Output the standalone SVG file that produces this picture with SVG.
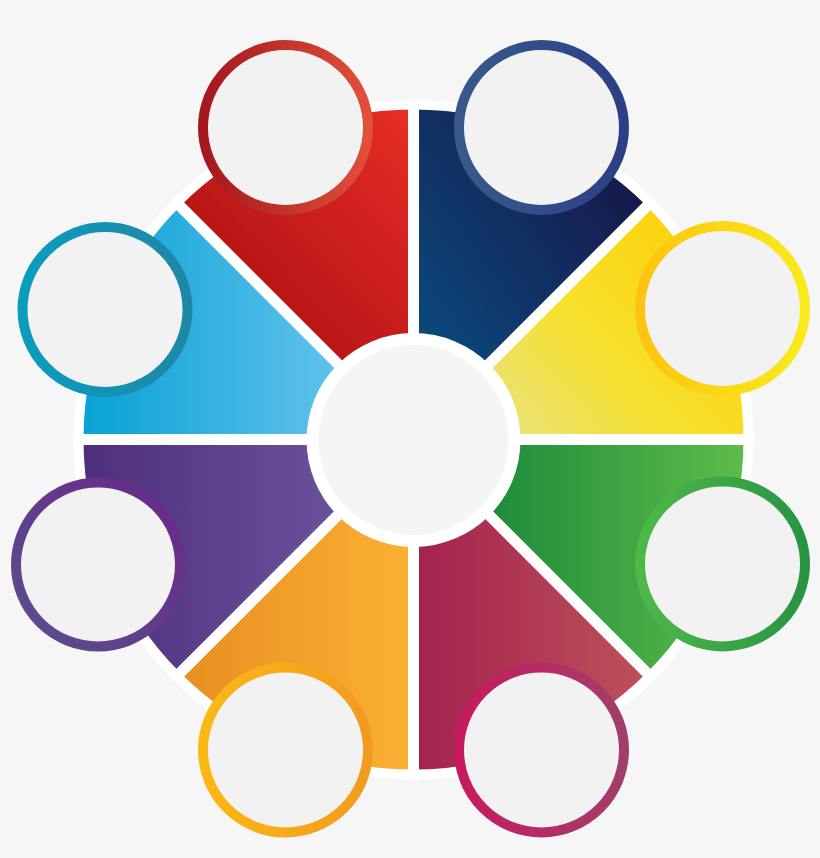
<svg xmlns="http://www.w3.org/2000/svg" width="820" height="858" viewBox="0 0 820 858">
  <style>
    .ring { stroke-width: 10; fill: #f2f2f2; }
    .divider { stroke: #ffffff; stroke-width: 11; stroke-linecap: butt; }
  </style>
  <defs>
    <linearGradient id="gRed" gradientUnits="userSpaceOnUse" x1="190" y1="330" x2="410" y2="120">
      <stop offset="0" stop-color="#a80e13"/>
      <stop offset="1" stop-color="#e62c25"/>
    </linearGradient>
    <linearGradient id="gBlue" gradientUnits="userSpaceOnUse" x1="420" y1="360" x2="640" y2="200">
      <stop offset="0" stop-color="#0a4b7e"/>
      <stop offset="1" stop-color="#17194b"/>
    </linearGradient>
    <linearGradient id="gYellow" gradientUnits="userSpaceOnUse" x1="495" y1="425" x2="700" y2="240">
      <stop offset="0" stop-color="#e9e17c"/>
      <stop offset="0.45" stop-color="#f6e12f"/>
      <stop offset="1" stop-color="#fcd20b"/>
    </linearGradient>
    <linearGradient id="gGreen" gradientUnits="userSpaceOnUse" x1="495" y1="0" x2="745" y2="0">
      <stop offset="0" stop-color="#1f8c3b"/>
      <stop offset="1" stop-color="#5fbc4b"/>
    </linearGradient>
    <linearGradient id="gCrimson" gradientUnits="userSpaceOnUse" x1="413" y1="0" x2="645" y2="0">
      <stop offset="0" stop-color="#a4214e"/>
      <stop offset="1" stop-color="#bd5159"/>
    </linearGradient>
    <linearGradient id="gOrange" gradientUnits="userSpaceOnUse" x1="180" y1="0" x2="413" y2="0">
      <stop offset="0" stop-color="#e88e22"/>
      <stop offset="1" stop-color="#fbb134"/>
    </linearGradient>
    <linearGradient id="gPurple" gradientUnits="userSpaceOnUse" x1="83" y1="0" x2="335" y2="0">
      <stop offset="0" stop-color="#4e2f7b"/>
      <stop offset="1" stop-color="#6a519b"/>
    </linearGradient>
    <linearGradient id="gCyan" gradientUnits="userSpaceOnUse" x1="83" y1="0" x2="335" y2="0">
      <stop offset="0" stop-color="#08a2d5"/>
      <stop offset="1" stop-color="#60c1ec"/>
    </linearGradient>

    <linearGradient id="rRed" x1="0" y1="0" x2="1" y2="0">
      <stop offset="0" stop-color="#a4171d"/>
      <stop offset="1" stop-color="#e0503a"/>
    </linearGradient>
    <linearGradient id="rBlue" x1="0" y1="0" x2="1" y2="0">
      <stop offset="0" stop-color="#375a8a"/>
      <stop offset="1" stop-color="#2c3f86"/>
    </linearGradient>
    <linearGradient id="rYellow" x1="0" y1="0" x2="1" y2="0">
      <stop offset="0" stop-color="#fdc40f"/>
      <stop offset="1" stop-color="#f8ea1c"/>
    </linearGradient>
    <linearGradient id="rGreen" x1="0" y1="0" x2="1" y2="0">
      <stop offset="0" stop-color="#4eb949"/>
      <stop offset="1" stop-color="#289443"/>
    </linearGradient>
    <linearGradient id="rCrimson" x1="0" y1="0" x2="1" y2="0">
      <stop offset="0" stop-color="#c71a5e"/>
      <stop offset="1" stop-color="#a23e6a"/>
    </linearGradient>
    <linearGradient id="rOrange" x1="0" y1="0" x2="1" y2="0">
      <stop offset="0" stop-color="#fcb814"/>
      <stop offset="1" stop-color="#f39a20"/>
    </linearGradient>
    <linearGradient id="rPurple" x1="1" y1="0" x2="0" y2="1">
      <stop offset="0" stop-color="#6b2789"/>
      <stop offset="1" stop-color="#5a4f8c"/>
    </linearGradient>
    <linearGradient id="rCyan" x1="0" y1="0" x2="1" y2="0">
      <stop offset="0" stop-color="#0a9dbd"/>
      <stop offset="1" stop-color="#1f87a6"/>
    </linearGradient>
  </defs>

  <rect x="0" y="0" width="820" height="858" fill="#f6f6f6"/>
  <circle id="outer-disk" cx="413.5" cy="439.5" r="340" fill="#ffffff"/>

  <g id="seg-red">
    <path d="M413.5 439.5 L180.15 206.15 A330 330 0 0 1 413.5 109.5 Z" fill="url(#gRed)"/>
  </g>
  <g id="seg-blue">
    <path d="M413.5 439.5 L413.5 109.5 A330 330 0 0 1 646.85 206.15 Z" fill="url(#gBlue)"/>
  </g>
  <g id="seg-yellow">
    <path d="M413.5 439.5 L646.85 206.15 A330 330 0 0 1 743.5 439.5 Z" fill="url(#gYellow)"/>
  </g>
  <g id="seg-green">
    <path d="M413.5 439.5 L743.5 439.5 A330 330 0 0 1 646.85 672.85 Z" fill="url(#gGreen)"/>
  </g>
  <g id="seg-crimson">
    <path d="M413.5 439.5 L646.85 672.85 A330 330 0 0 1 413.5 769.5 Z" fill="url(#gCrimson)"/>
  </g>
  <g id="seg-orange">
    <path d="M413.5 439.5 L413.5 769.5 A330 330 0 0 1 180.15 672.85 Z" fill="url(#gOrange)"/>
  </g>
  <g id="seg-purple">
    <path d="M413.5 439.5 L180.15 672.85 A330 330 0 0 1 83.5 439.5 Z" fill="url(#gPurple)"/>
  </g>
  <g id="seg-cyan">
    <path d="M413.5 439.5 L83.5 439.5 A330 330 0 0 1 180.15 206.15 Z" fill="url(#gCyan)"/>
  </g>

  <g id="dividers">
    <line class="divider" x1="413.5" y1="99" x2="413.5" y2="780"/>
    <line class="divider" x1="73" y1="439.5" x2="754" y2="439.5"/>
    <line class="divider" x1="173.1" y1="199.1" x2="653.9" y2="679.9"/>
    <line class="divider" x1="653.9" y1="199.1" x2="173.1" y2="679.9"/>
  </g>

  <g id="center">
    <circle cx="413.5" cy="440" r="107" fill="#ffffff"/>
    <circle cx="413.5" cy="440" r="95" fill="#f5f5f5"/>
  </g>

  <g id="circle-red"><circle class="ring" cx="285.5" cy="127.5" r="82.5" stroke="url(#rRed)"/></g>
  <g id="circle-blue"><circle class="ring" cx="541.5" cy="127.5" r="82.5" stroke="url(#rBlue)"/></g>
  <g id="circle-yellow"><circle class="ring" cx="722.5" cy="308.5" r="82.5" stroke="url(#rYellow)"/></g>
  <g id="circle-green"><circle class="ring" cx="722.5" cy="564" r="82.5" stroke="url(#rGreen)"/></g>
  <g id="circle-crimson"><circle class="ring" cx="541.5" cy="750" r="82.5" stroke="url(#rCrimson)"/></g>
  <g id="circle-orange"><circle class="ring" cx="285.5" cy="750" r="82.5" stroke="url(#rOrange)"/></g>
  <g id="circle-purple"><circle class="ring" cx="98" cy="564.5" r="82" stroke="url(#rPurple)"/></g>
  <g id="circle-cyan"><circle class="ring" cx="105" cy="309.5" r="82.5" stroke="url(#rCyan)"/></g>
</svg>
